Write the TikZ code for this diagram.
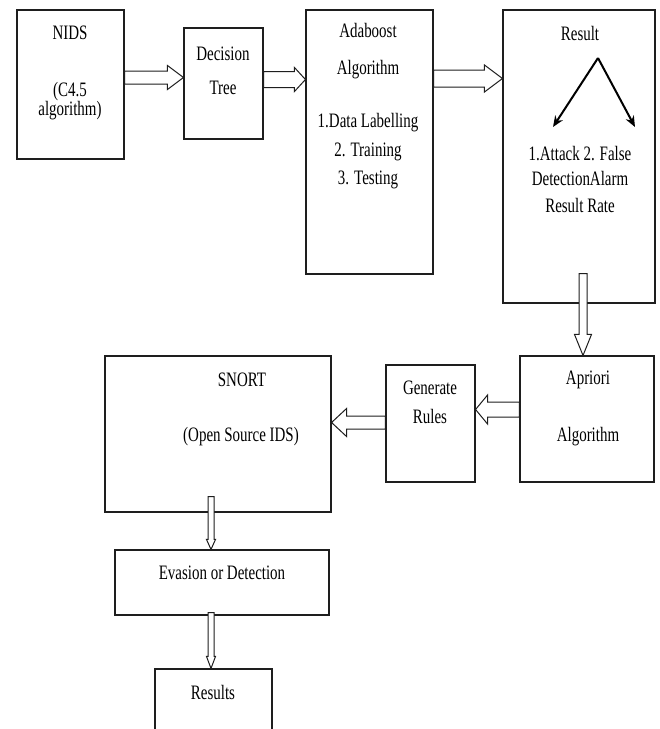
\documentclass[tikz,border=0pt]{standalone}
\usepackage{fontspec}
\setmainfont{Liberation Serif}[FakeStretch=0.73]
\usepackage{tikz}
\usetikzlibrary{arrows.meta, calc}
\definecolor{edge}{HTML}{1E1E1E}

\tikzset{
  box/.style={draw=edge, line width=1.1pt, inner sep=0pt},
  lbl/.style={inner sep=0pt, align=center, font=\fontsize{20.5}{18.5}\selectfont},
  % hollow block arrow: {shaft half width}{head half width}{head length}
  hollow/.style n args={3}{draw=edge, line width=1pt, fill=white, line join=miter,
    to path={
      ($(\tikztostart)!#1!90:(\tikztotarget)$)
      -- ($(\tikztotarget)!#3!(\tikztostart)!#1!90:(\tikztotarget)$)
      -- ($(\tikztotarget)!#3!(\tikztostart)!#2!90:(\tikztotarget)$)
      -- (\tikztotarget)
      -- ($(\tikztotarget)!#3!(\tikztostart)!#2!-90:(\tikztotarget)$)
      -- ($(\tikztotarget)!#3!(\tikztostart)!#1!-90:(\tikztotarget)$)
      -- ($(\tikztostart)!#1!-90:(\tikztotarget)$) -- cycle}},
  split/.style={-{Stealth[length=11pt, width=9pt]}, line width=2pt, draw=black}
}

\begin{document}
\begin{tikzpicture}[x=1pt, y=1pt]
  \useasboundingbox (0,0) rectangle (660,-729);

  % NIDS
  \node[box, minimum width=107pt, minimum height=149pt] (nids) at (70.5,-84.5) {};
  \node[lbl] (nids-t) at (70,-33) {NIDS};
  \node[lbl] (nids-s) at (70,-101) {(C4.5\\algorithm)};

  % Decision tree
  \node[box, minimum width=79pt, minimum height=111pt] (dt) at (223.5,-83.5) {};
  \node[lbl] (dt-t) at (223,-71) {Decision\\[15.5pt]Tree};

  % Adaboost
  \node[box, minimum width=127pt, minimum height=264pt] (ada) at (369.5,-142) {};
  \node[lbl] (ada-t) at (368,-51.5) {Adaboost\\[18.5pt]Algorithm};
  \node[lbl] (ada-s) at (368,-151.5) {1.Data Labelling\\[10pt]2. Training\\[10pt]3. Testing};

  % Result
  \node[box, minimum width=152pt, minimum height=293pt] (result) at (579,-156.5) {};
  \node[lbl] (res-t) at (580,-33) {Result};
  \node[lbl] (res-s) at (580,-179) {1.Attack 2. False\\[7pt]DetectionAlarm\\[8pt]Result Rate};
  \coordinate (fork) at (598,-58);
  \coordinate (atk) at (553,-127);
  \coordinate (fls) at (635,-127);
  \draw[split] (fork) -- (atk);
  \draw[split] (fork) -- (fls);

  % Apriori
  \node[box, minimum width=134pt, minimum height=126pt] (apriori) at (587,-419) {};
  \node[lbl] (ap-t) at (588,-380) {Apriori};
  \node[lbl] (ap-s) at (588,-437) {Algorithm};

  % Generate rules
  \node[box, minimum width=89pt, minimum height=117pt] (gr) at (430.5,-423.5) {};
  \node[lbl] (gr-t) at (430,-402.5) {Generate\\[10.5pt]Rules};

  % SNORT
  \node[box, minimum width=226pt, minimum height=156pt] (snort) at (218,-434) {};
  \node[lbl] (sn-t) at (242,-380) {SNORT};
  \node[lbl] (sn-s) at (241,-437) {(Open Source IDS)};

  % Evasion / results
  \node[box, minimum width=214pt, minimum height=65pt] (evasion) at (222,-582.5) {};
  \node[lbl] (ev-t) at (222,-573) {Evasion or Detection};
  \node[box, minimum width=117pt, minimum height=80pt] (results) at (213.5,-709) {};
  \node[lbl] (rs-t) at (213,-692) {Results};

  % Block arrows
  \draw[hollow={6.5pt}{12pt}{16pt}] ([yshift=7]nids.east) to ([yshift=6]dt.west);
  \draw[hollow={8pt}{12pt}{11pt}] ([yshift=4]dt.east) to ([yshift=62.5]ada.west);
  \draw[hollow={8.5pt}{13.5pt}{18pt}] ([yshift=63.5]ada.east) to ([yshift=78]result.west);
  \draw[hollow={4pt}{8.5pt}{21pt}] ([xshift=4,yshift=30]result.south) to ([xshift=-4]apriori.north);
  \draw[hollow={7.5pt}{14.5pt}{12pt}] ([yshift=9.5]apriori.west) to ([yshift=14]gr.east);
  \draw[hollow={6.5pt}{14pt}{15pt}] ([yshift=1]gr.west) to ([yshift=11.5]snort.east);
  \draw[hollow={3pt}{4.5pt}{10pt}] ([xshift=-7,yshift=16]snort.south) to ([xshift=-11]evasion.north);
  \draw[hollow={3pt}{4.5pt}{12pt}] ([xshift=-11,yshift=3]evasion.south) to ([xshift=-2.5]results.north);
\end{tikzpicture}
\end{document}
